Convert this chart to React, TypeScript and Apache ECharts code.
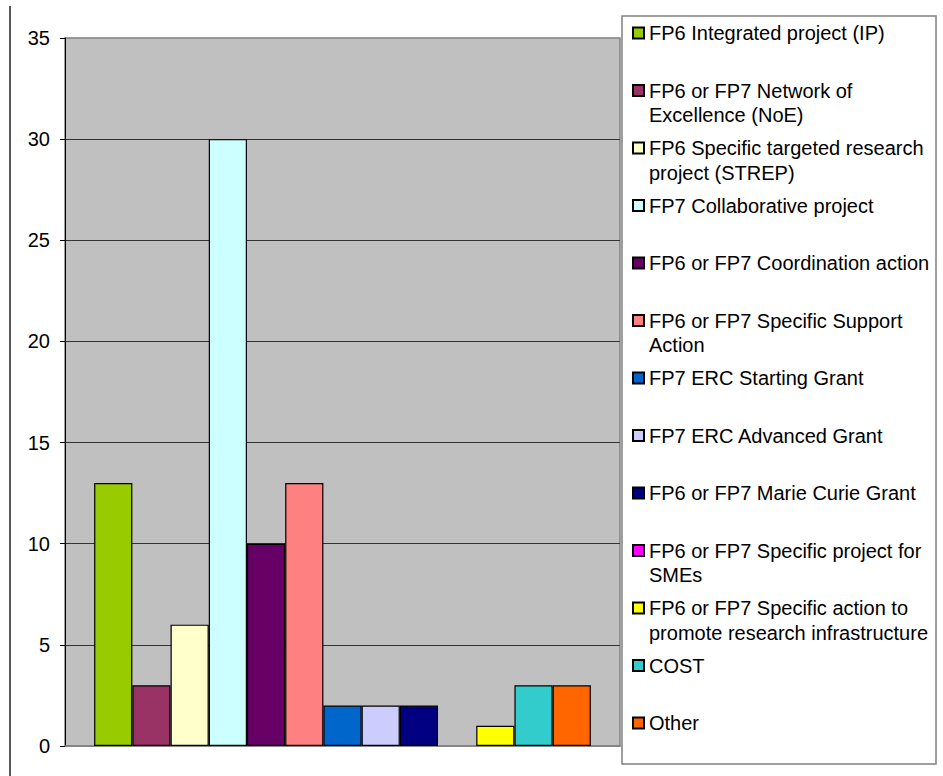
import React, { useEffect, useRef } from "react";
import * as echarts from "echarts";

// Project types (one series each) and their counts
const seriesNames: string[] = [
  "FP6 Integrated project (IP)",
  "FP6 or FP7 Network of Excellence (NoE)",
  "FP6 Specific targeted research project (STREP)",
  "FP7 Collaborative project",
  "FP6 or FP7 Coordination action",
  "FP6 or FP7 Specific Support Action",
  "FP7 ERC Starting Grant",
  "FP7 ERC Advanced Grant",
  "FP6 or FP7 Marie Curie Grant",
  "FP6 or FP7 Specific project for SMEs",
  "FP6 or FP7 Specific action to promote research infrastructure",
  "COST",
  "Other",
];

// How each legend entry wraps
const legendLines: string[][] = [
  ["FP6 Integrated project (IP)"],
  ["FP6 or FP7 Network of", "Excellence (NoE)"],
  ["FP6 Specific targeted research", "project (STREP)"],
  ["FP7 Collaborative project"],
  ["FP6 or FP7 Coordination action"],
  ["FP6 or FP7 Specific Support", "Action"],
  ["FP7 ERC Starting Grant"],
  ["FP7 ERC Advanced Grant"],
  ["FP6 or FP7 Marie Curie Grant"],
  ["FP6 or FP7 Specific project for", "SMEs"],
  ["FP6 or FP7 Specific action to", "promote research infrastructure"],
  ["COST"],
  ["Other"],
];

const counts: number[] = [13, 3, 6, 30, 10, 13, 2, 2, 2, 0, 1, 3, 3];

const seriesColors: string[] = [
  "#99CC00",
  "#993366",
  "#FFFFCC",
  "#CCFFFF",
  "#660066",
  "#FF8080",
  "#0066CC",
  "#CCCCFF",
  "#000080",
  "#FF00FF",
  "#FFFF00",
  "#33CCCC",
  "#FF6600",
];

const categories: string[] = [""];
const yMin = 0;
const yMax = 35;
const yStep = 5;

const FONT = 'Arial, "Liberation Sans", sans-serif';
const FONT_SIZE = 20;
const LINE_H = 24.5;

export default function App() {
  const ref = useRef<HTMLDivElement>(null);

  useEffect(() => {
    if (!ref.current) return;
    const chart = echarts.init(ref.current, undefined, { renderer: "svg" });

    const legendFirstY = 33;
    const legendStep = 57.5;

    // one legend block per entry so every entry sits on an even pitch,
    // with the marker level with the first line of wrapped labels
    const legends = seriesNames.map((name, i) => {
      const lines = legendLines[i];
      const centerY = legendFirstY + i * legendStep;
      const multi = lines.length > 1;
      return {
        data: [name],
        orient: "vertical" as const,
        left: 632,
        top: multi ? centerY - 1.5 * LINE_H : centerY - LINE_H / 2,
        padding: 0,
        itemWidth: 11,
        itemHeight: 11,
        icon: "rect",
        selectedMode: false,
        formatter: () => (multi ? "\n" + lines.join("\n") : lines[0]),
        textStyle: {
          fontFamily: FONT,
          fontSize: FONT_SIZE,
          lineHeight: LINE_H,
          color: "#000",
        },
      };
    });

    chart.setOption({
      animation: false,
      backgroundColor: "#fff",
      graphic: [
        {
          type: "line",
          shape: { x1: 10, y1: 6, x2: 10, y2: 776 },
          style: { stroke: "#222", lineWidth: 1.5 },
        },
        {
          type: "rect",
          shape: { x: 622, y: 16, width: 314, height: 748 },
          style: { fill: "#fff", stroke: "#808080", lineWidth: 1.5 },
        },
      ],
      legend: legends,
      grid: {
        left: 65,
        top: 38,
        right: 323,
        bottom: 30,
        show: true,
        backgroundColor: "#C0C0C0",
        borderColor: "#808080",
        borderWidth: 1.5,
        containLabel: false,
      },
      xAxis: {
        type: "category",
        data: categories,
        axisLine: { show: true, lineStyle: { color: "#808080", width: 1.5 } },
        axisTick: { show: false },
        axisLabel: { show: false },
      },
      yAxis: {
        type: "value",
        min: yMin,
        max: yMax,
        interval: yStep,
        axisLine: { show: true, lineStyle: { color: "#000", width: 1 } },
        axisTick: { show: true, length: 5, inside: false, lineStyle: { color: "#000" } },
        axisLabel: {
          margin: 15,
          fontFamily: FONT,
          fontSize: FONT_SIZE,
          color: "#000",
        },
        splitLine: {
          show: true,
          showMinLine: false,
          showMaxLine: false,
          lineStyle: { color: "#333", width: 1 },
        },
      },
      series: seriesNames.map((name, i) => ({
        name,
        type: "bar",
        // an empty bar gets no outline so it leaves no stroke on the axis
        data: [counts[i] === 0 ? { value: 0, itemStyle: { borderWidth: 0 } } : counts[i]],
        barGap: "0%",
        barCategoryGap: "10.5%",
        itemStyle: {
          color: seriesColors[i],
          borderColor: "#000",
          borderWidth: 1.2,
        },
      })),
    });

    return () => chart.dispose();
  }, []);

  return <div ref={ref} style={{ width: 943, height: 776, position: "absolute", left: 0, top: 0 }} />;
}
